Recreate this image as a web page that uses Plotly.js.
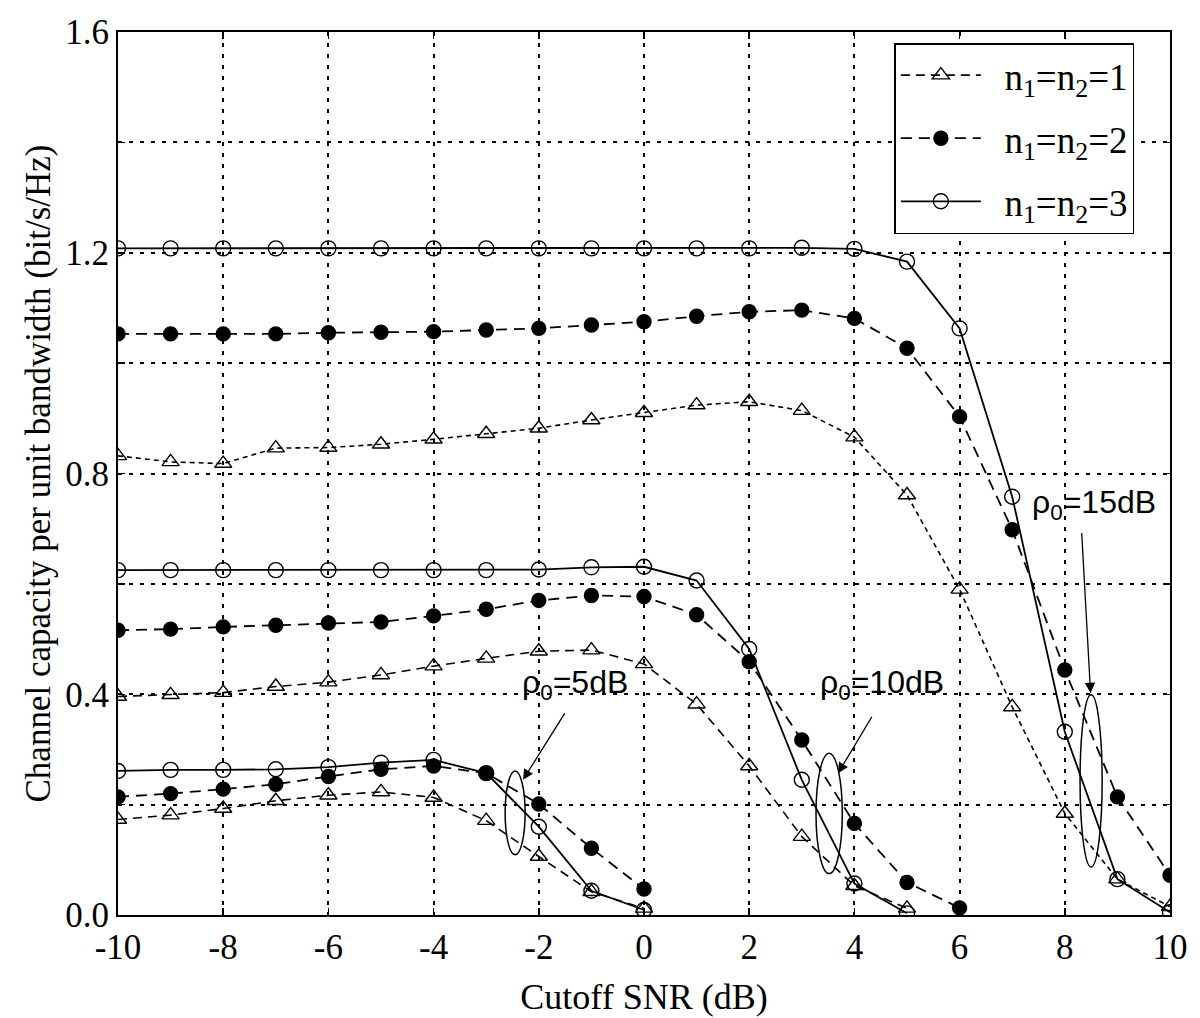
<!DOCTYPE html>
<html>
<head>
<meta charset="utf-8">
<script src="https://cdn.plot.ly/plotly-3.0.1.min.js"></script>
<style>html,body{margin:0;padding:0;background:#fff;}#chart{width:1200px;height:1018px;}</style>
</head>
<body>
<div id="chart"></div>
<script>
// ---- data ----
const snr15 = [-10,-9,-8,-7,-6,-5,-4,-3,-2,-1,0,1,2,3,4,5,6,7,8,9,10];
const cap15_n1 = [0.832,0.821,0.818,0.846,0.847,0.853,0.862,0.872,0.882,0.897,0.910,0.924,0.930,0.914,0.866,0.761,0.590,0.377,0.184,0.065,0.015];
const cap15_n2 = [1.053,1.053,1.053,1.053,1.055,1.056,1.057,1.060,1.063,1.069,1.075,1.085,1.093,1.096,1.081,1.027,0.903,0.698,0.444,0.214,0.072];
const cap15_n3 = [1.208,1.208,1.208,1.208,1.208,1.208,1.208,1.208,1.208,1.208,1.208,1.208,1.208,1.209,1.207,1.184,1.063,0.758,0.332,0.065,0.005];

const snr10_n1 = [-10,-9,-8,-7,-6,-5,-4,-3,-2,-1,0,1,2,3,4,5];
const cap10_n1 = [0.396,0.399,0.403,0.414,0.422,0.435,0.451,0.465,0.478,0.480,0.455,0.382,0.270,0.142,0.053,0.012];
const snr10_n2 = [-10,-9,-8,-7,-6,-5,-4,-3,-2,-1,0,1,2,3,4,5,6];
const cap10_n2 = [0.516,0.518,0.522,0.525,0.529,0.531,0.542,0.554,0.570,0.579,0.577,0.544,0.459,0.317,0.166,0.059,0.013];
const snr10_n3 = [-10,-9,-8,-7,-6,-5,-4,-3,-2,-1,0,1,2,3,4,5];
const cap10_n3 = [0.625,0.625,0.625,0.625,0.625,0.625,0.625,0.625,0.626,0.630,0.631,0.606,0.482,0.245,0.057,0.003];

const snr5 = [-10,-9,-8,-7,-6,-5,-4,-3,-2,-1,0];
const cap5_n1 = [0.173,0.181,0.193,0.207,0.217,0.223,0.213,0.171,0.106,0.042,0.012];
const cap5_n2 = [0.214,0.220,0.228,0.237,0.251,0.264,0.270,0.257,0.201,0.121,0.047];
const cap5_n3 = [0.261,0.263,0.263,0.264,0.268,0.276,0.281,0.257,0.160,0.044,0.009];

const seriesNames = ['n<sub>1</sub>=n<sub>2</sub>=1','n<sub>1</sub>=n<sub>2</sub>=2','n<sub>1</sub>=n<sub>2</sub>=3'];
const xTickVals = [-10,-8,-6,-4,-2,0,2,4,6,8,10];
const yTickVals = [0,0.4,0.8,1.2,1.6];
const yTickText = ['0.0','0.4','0.8','1.2','1.6'];
const yMinorVals = [0.2,0.6,1.0,1.4];
const labels = ['ρ<sub>0</sub>=5dB','ρ<sub>0</sub>=10dB','ρ<sub>0</sub>=15dB'];

// ---- styles ----
const styles = [
  {dash:'9px,6px', symbol:'triangle-up-open', size:15, lw:1.6},
  {dash:'11px,7px', symbol:'circle', size:14, lw:1.8},
  {dash:'solid', symbol:'circle-open', size:15, lw:1.8}
];
function mk(x, y, k, show, dashOverride){
  const s = styles[k];
  return {
    x:x, y:y, type:'scatter', mode:'lines+markers',
    name: '\u00A0\u00A0' + seriesNames[k], legendgroup:'g'+k, showlegend:show,
    line:{color:'#000', width:s.lw, dash: dashOverride || s.dash},
    marker:{symbol:s.symbol, size:s.size, color:'#000', line:{color:'#000', width:1.4}}
  };
}
const traces = [
  mk(snr10_n1, cap10_n1, 0, true),
  mk(snr10_n2, cap10_n2, 1, true),
  mk(snr10_n3, cap10_n3, 2, true),
  mk(snr15, cap15_n1, 0, false, '5px,4px'),
  mk(snr15, cap15_n2, 1, false),
  mk(snr15, cap15_n3, 2, false),
  mk(snr5, cap5_n1, 0, false),
  mk(snr5, cap5_n2, 1, false),
  mk(snr5, cap5_n3, 2, false)
];

const serif = 'Liberation Serif, Times New Roman, serif';
const sans = 'Liberation Sans, Arial, sans-serif';
const gridStyle = {showgrid:true, gridcolor:'#000', gridwidth:2, griddash:'4px,7px'};

const layout = {
  width:1200, height:1018,
  margin:{l:118, r:30, t:32, b:103},
  paper_bgcolor:'#fff', plot_bgcolor:'#fff',
  font:{family:serif, color:'#000', size:35},
  showlegend:true,
  legend:{x:0.738, y:0.9875, xanchor:'left', yanchor:'top',
    bgcolor:'#fff', bordercolor:'#000', borderwidth:1.5,
    font:{family:serif, size:37, color:'#000'}, itemwidth:80, tracegroupgap:12,
    traceorder:'grouped'},
  xaxis:Object.assign({range:[-10,10], tickvals:xTickVals, ticktext:xTickVals.map(String),
    zeroline:false, showline:true, linecolor:'#000', linewidth:2, mirror:'ticks',
    ticks:'inside', ticklen:7, tickcolor:'#000', tickwidth:1.5,
    tickfont:{family:serif, size:35, color:'#000'},
    title:{text:'Cutoff SNR (dB)', font:{family:serif, size:36, color:'#000'}, standoff:18},
    automargin:false}, gridStyle),
  yaxis:Object.assign({range:[0,1.6], tickvals:yTickVals, ticktext:yTickText,
    zeroline:false, showline:true, linecolor:'#000', linewidth:2, mirror:'ticks',
    ticks:'inside', ticklen:7, tickcolor:'#000', tickwidth:1.5,
    tickfont:{family:serif, size:35, color:'#000'},
    minor:{tickvals:yMinorVals, showgrid:true, gridcolor:'#000', gridwidth:2, griddash:'4px,7px',
      ticks:'inside', ticklen:7, tickcolor:'#000', tickwidth:1.5},
    title:{text:'Channel capacity per unit bandwidth (bit/s/Hz)', font:{family:serif, size:35, color:'#000'}, standoff:4},
    automargin:false}, gridStyle),
  shapes:[
    {type:'circle', xref:'x', yref:'y', x0:-2.64, x1:-2.26, y0:0.109, y1:0.261, line:{color:'#000', width:1.5}},
    {type:'circle', xref:'x', yref:'y', x0:3.27, x1:3.77, y0:0.075, y1:0.293, line:{color:'#000', width:1.5}},
    {type:'circle', xref:'x', yref:'y', x0:8.29, x1:8.71, y0:0.087, y1:0.399, line:{color:'#000', width:1.5}}
  ],
  annotations:[
    {x:-1.31, y:0.417, xref:'x', yref:'y', text:labels[0], showarrow:false, font:{family:sans, size:32, color:'#000'}},
    {x:4.52, y:0.417, xref:'x', yref:'y', text:labels[1], showarrow:false, font:{family:sans, size:32, color:'#000'}},
    {x:8.56, y:0.743, xref:'x', yref:'y', text:labels[2], showarrow:false, font:{family:sans, size:32, color:'#000'}},
    {x:-2.30, y:0.245, ax:-1.49, ay:0.368, xref:'x', yref:'y', axref:'x', ayref:'y', text:'', showarrow:true, arrowhead:2, arrowsize:1.6, arrowwidth:1.3, arrowcolor:'#000'},
    {x:3.69, y:0.257, ax:4.35, ay:0.362, xref:'x', yref:'y', axref:'x', ayref:'y', text:'', showarrow:true, arrowhead:2, arrowsize:1.6, arrowwidth:1.3, arrowcolor:'#000'},
    {x:8.49, y:0.402, ax:8.32, ay:0.695, xref:'x', yref:'y', axref:'x', ayref:'y', text:'', showarrow:true, arrowhead:2, arrowsize:1.6, arrowwidth:1.3, arrowcolor:'#000'}
  ]
};

Plotly.newPlot('chart', traces, layout, {displayModeBar:false, staticPlot:true});
</script>
</body>
</html>
